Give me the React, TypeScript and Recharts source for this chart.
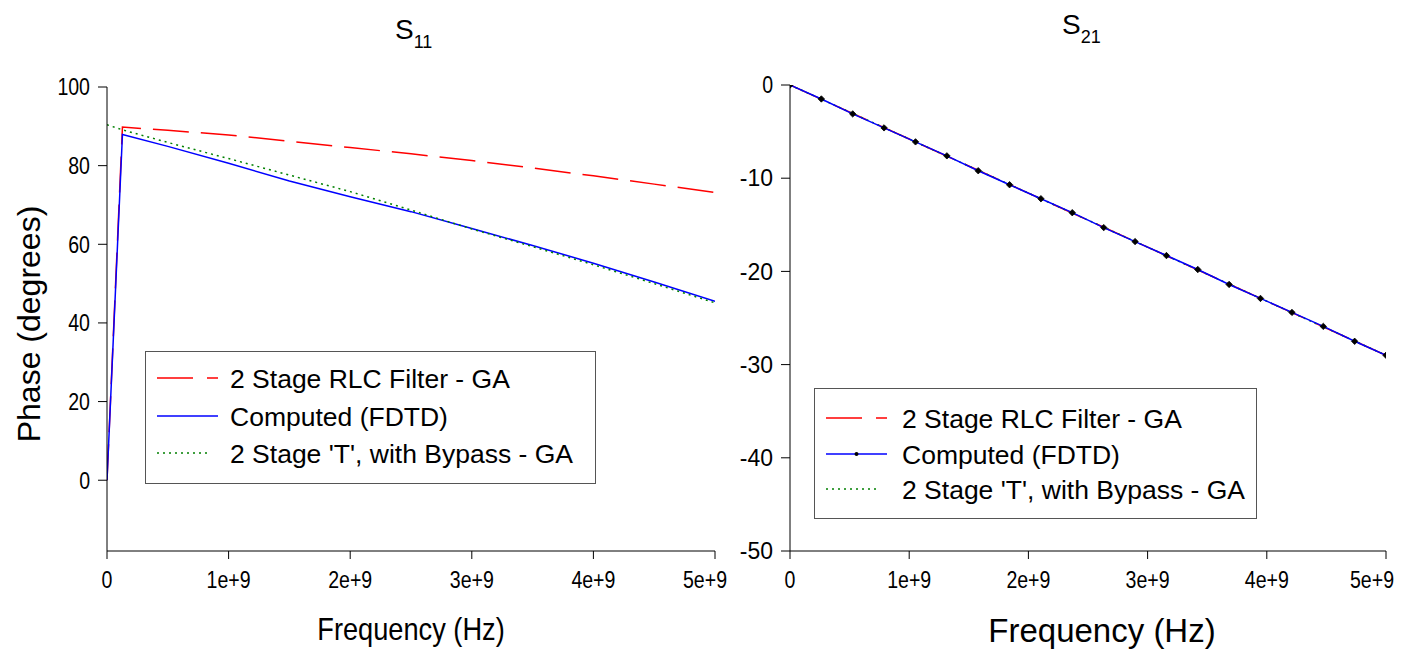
import React from 'react';
import { LineChart, Line, XAxis, YAxis } from 'recharts';

// S11 phase
const S11_FREQ = [0, 0.127e9, 0.5e9, 1e9, 1.5e9, 2e9, 2.5e9, 3e9, 3.5e9, 4e9, 4.5e9, 5e9];
const S11_RLC = [0, 89.8, 89.0, 87.8, 86.2, 84.6, 83.0, 81.3, 79.4, 77.4, 75.3, 73.2];
const S11_FDTD = [0, 87.9, 84.9, 80.6, 76.1, 72.1, 68.3, 64.0, 59.7, 55.2, 50.4, 45.5];
const S11_TEE = [90.4, 89.1, 85.9, 81.8, 77.6, 73.4, 68.7, 63.9, 59.4, 54.8, 50.0, 45.1];

// S21 phase
const S21_FREQ = [
    0, 0.263e9, 0.526e9, 0.789e9, 1.053e9, 1.316e9, 1.579e9, 1.842e9, 2.105e9, 2.368e9,
    2.632e9, 2.895e9, 3.158e9, 3.421e9, 3.684e9, 3.947e9, 4.211e9, 4.474e9, 4.737e9, 5e9,
];
const S21_FDTD = [
    0, -1.5, -3.1, -4.6, -6.1, -7.6, -9.2, -10.7, -12.2, -13.7,
    -15.3, -16.8, -18.3, -19.8, -21.4, -22.9, -24.4, -25.9, -27.5, -29.0,
];
const S21_GA_FREQ = [0, 1e9, 2e9, 3e9, 4e9, 5e9];
const S21_RLC = [0, -5.8, -11.6, -17.4, -23.2, -29.0];
const S21_TEE = [0, -5.8, -11.6, -17.4, -23.2, -29.0];

const FREQ_TICKS = [0, 1e9, 2e9, 3e9, 4e9, 5e9];
const S11_TICKS = [0, 20, 40, 60, 80, 100];
const S21_TICKS = [0, -10, -20, -30, -40, -50];
const LEGEND_LABELS = ['2 Stage RLC Filter - GA', 'Computed (FDTD)', "2 Stage 'T', with Bypass - GA"];

const RED = '#ff0000';
const BLUE = '#0000ff';
const GREEN = '#008000';
const FONT = '"Liberation Sans", Arial, sans-serif';

const toPts = (f: number[], v: number[]) => f.map((x, i) => ({ f: x, v: v[i] }));
const fmtFreq = (v: number) => (v === 0 ? '0' : `${Math.round(v / 1e9)}e+9`);

// rough Arial advance widths, used to squeeze tick labels like the original's narrow font
const CHAR_W: Record<string, number> = { e: 0.556, '+': 0.584, '-': 0.584 };
const textWidth = (s: string, size: number) =>
    s.split('').reduce((w, c) => w + (CHAR_W[c] ?? 0.556), 0) * size;

const TICK_SIZE = 23;
const SQUEEZE = 0.85;

const NarrowTick = (props: any) => {
    const { x, y, payload, textAnchor, formatter, vertical } = props;
    const label = formatter ? formatter(payload.value) : String(payload.value);
    return (
        <text
            x={x}
            y={y}
            dy={vertical ? '0.36em' : '0.78em'}
            textAnchor={textAnchor}
            fontSize={TICK_SIZE}
            fontFamily={FONT}
            fill="#000"
            textLength={textWidth(label, TICK_SIZE) * SQUEEZE}
            lengthAdjust="spacingAndGlyphs"
        >
            {label}
        </text>
    );
};

const Marker = (props: any) => {
    const { cx, cy, index } = props;
    if (cx == null || cy == null) return null;
    const r = 3.2;
    return (
        <path
            key={`m-${index}`}
            d={`M${cx},${cy - r}L${cx + r},${cy}L${cx},${cy + r}L${cx - r},${cy}Z`}
            fill="#000"
            stroke="#000"
            strokeWidth={0.8}
        />
    );
};

interface LegendProps {
    left: number;
    top: number;
    width: number;
    height: number;
    rows: number[];
    textX: number;
    marker?: boolean;
}

const LegendBox: React.FC<LegendProps> = ({ left, top, width, height, rows, textX, marker }) => (
    <svg
        width={width}
        height={height}
        style={{ position: 'absolute', left, top, overflow: 'visible' }}
    >
        <rect x={0.5} y={0.5} width={width - 1} height={height - 1} fill="#fff" stroke="#555" strokeWidth={1} />
        <line x1={12} x2={73} y1={rows[0]} y2={rows[0]} stroke={RED} strokeWidth={1.3} strokeDasharray="36 14" />
        <line x1={12} x2={73} y1={rows[1]} y2={rows[1]} stroke={BLUE} strokeWidth={1.3} />
        {marker && <circle cx={42.5} cy={rows[1]} r={2} fill="#000" />}
        <line x1={12} x2={66} y1={rows[2]} y2={rows[2]} stroke={GREEN} strokeWidth={1.3} strokeDasharray="2 4" />
        {LEGEND_LABELS.map((t, i) => (
            <text key={t} x={textX} y={rows[i]} dy="0.36em" fontSize={26.5} fontFamily={FONT} fill="#000">
                {t}
            </text>
        ))}
    </svg>
);

const axisStroke = { stroke: '#000', strokeWidth: 1 };

export default function App() {
    const s11Rlc = toPts(S11_FREQ, S11_RLC);
    const s11Fdtd = toPts(S11_FREQ, S11_FDTD);
    const s11Tee = toPts(S11_FREQ, S11_TEE);
    const s21Rlc = toPts(S21_GA_FREQ, S21_RLC);
    const s21Tee = toPts(S21_GA_FREQ, S21_TEE);
    const s21Fdtd = toPts(S21_FREQ, S21_FDTD);

    return (
        <div
            style={{
                position: 'absolute',
                left: 0,
                top: 0,
                width: 1412,
                height: 649,
                overflow: 'hidden',
                background: '#fff',
                fontFamily: FONT,
            }}
        >
            {/* S11 */}
            <div style={{ position: 'absolute', left: 0, top: 0 }}>
                <LineChart width={745} height={649} margin={{ top: 87, right: 30, bottom: 58, left: 47 }}>
                    <XAxis
                        dataKey="f"
                        type="number"
                        domain={[0, 5e9]}
                        ticks={FREQ_TICKS}
                        allowDataOverflow
                        height={40}
                        tickSize={8}
                        tickMargin={11}
                        axisLine={axisStroke}
                        tickLine={axisStroke}
                        tick={<NarrowTick formatter={fmtFreq} />}
                    />
                    <XAxis xAxisId="top" orientation="top" type="number" domain={[0, 5e9]} height={0} tick={false} tickLine={false} axisLine={axisStroke} />
                    <YAxis
                        type="number"
                        domain={[-18, 100]}
                        ticks={S11_TICKS}
                        allowDataOverflow
                        width={60}
                        tickSize={9}
                        tickMargin={8}
                        axisLine={axisStroke}
                        tickLine={axisStroke}
                        tick={<NarrowTick vertical />}
                    />
                    <YAxis
                        yAxisId="r"
                        orientation="right"
                        mirror
                        type="number"
                        domain={[-18, 100]}
                        ticks={S11_TICKS}
                        allowDataOverflow
                        width={0}
                        tickSize={8}
                        tick={false}
                        axisLine={axisStroke}
                        tickLine={axisStroke}
                    />
                    <Line data={s11Rlc} dataKey="v" type="linear" stroke={RED} strokeWidth={1.5} strokeDasharray="36 12" dot={false} isAnimationActive={false} />
                    <Line data={s11Fdtd} dataKey="v" type="linear" stroke={BLUE} strokeWidth={1.5} dot={false} isAnimationActive={false} />
                    <Line data={s11Tee} dataKey="v" type="linear" stroke={GREEN} strokeWidth={1.5} strokeDasharray="2 4" dot={false} isAnimationActive={false} />
                </LineChart>
            </div>

            {/* S21 */}
            <div style={{ position: 'absolute', left: 705, top: 0 }}>
                <LineChart width={707} height={649} margin={{ top: 85, right: 26, bottom: 58, left: 25 }}>
                    <XAxis
                        dataKey="f"
                        type="number"
                        domain={[0, 5e9]}
                        ticks={FREQ_TICKS}
                        allowDataOverflow
                        height={40}
                        tickSize={8}
                        tickMargin={11}
                        axisLine={axisStroke}
                        tickLine={axisStroke}
                        tick={<NarrowTick formatter={fmtFreq} />}
                    />
                    <XAxis xAxisId="top" orientation="top" type="number" domain={[0, 5e9]} height={0} tick={false} tickLine={false} axisLine={axisStroke} />
                    <YAxis
                        type="number"
                        domain={[-50, 0]}
                        ticks={S21_TICKS}
                        allowDataOverflow
                        width={60}
                        tickSize={9}
                        tickMargin={8}
                        axisLine={axisStroke}
                        tickLine={axisStroke}
                        tick={<NarrowTick vertical />}
                    />
                    <YAxis
                        yAxisId="r"
                        orientation="right"
                        mirror
                        type="number"
                        domain={[-50, 0]}
                        ticks={S21_TICKS}
                        allowDataOverflow
                        width={0}
                        tickSize={8}
                        tick={false}
                        axisLine={axisStroke}
                        tickLine={axisStroke}
                    />
                    <Line data={s21Rlc} dataKey="v" type="linear" stroke={RED} strokeWidth={1.5} strokeDasharray="36 12" dot={false} isAnimationActive={false} />
                    <Line data={s21Tee} dataKey="v" type="linear" stroke={GREEN} strokeWidth={1.5} strokeDasharray="2 4" dot={false} isAnimationActive={false} />
                    <Line data={s21Fdtd} dataKey="v" type="linear" stroke={BLUE} strokeWidth={1.5} dot={Marker} isAnimationActive={false} />
                </LineChart>
            </div>

            {/* titles */}
            <div style={{ position: 'absolute', left: 395, top: 16, fontSize: 28, lineHeight: 1, color: '#000' }}>
                S<sub style={{ fontSize: 18, verticalAlign: 'baseline', position: 'relative', top: 9 }}>11</sub>
            </div>
            <div style={{ position: 'absolute', left: 1062, top: 11, fontSize: 28, lineHeight: 1, color: '#000' }}>
                S<sub style={{ fontSize: 18, verticalAlign: 'baseline', position: 'relative', top: 9 }}>21</sub>
            </div>

            {/* axis labels */}
            <div
                style={{
                    position: 'absolute',
                    left: 411,
                    top: 629,
                    transform: 'translate(-50%, -50%) scaleX(0.85)',
                    fontSize: 32,
                    whiteSpace: 'nowrap',
                    color: '#000',
                }}
            >
                Frequency (Hz)
            </div>
            <div
                style={{
                    position: 'absolute',
                    left: 1102,
                    top: 631,
                    transform: 'translate(-50%, -50%)',
                    fontSize: 33,
                    whiteSpace: 'nowrap',
                    color: '#000',
                }}
            >
                Frequency (Hz)
            </div>
            <div
                style={{
                    position: 'absolute',
                    left: 29,
                    top: 324,
                    transform: 'translate(-50%, -50%) rotate(-90deg)',
                    fontSize: 32,
                    whiteSpace: 'nowrap',
                    color: '#000',
                }}
            >
                Phase (degrees)
            </div>

            <LegendBox left={145} top={351} width={451} height={133} rows={[27, 65, 102]} textX={85} />
            <LegendBox left={814} top={388} width={443} height={131} rows={[30, 66, 101]} textX={88} marker />
        </div>
    );
}
